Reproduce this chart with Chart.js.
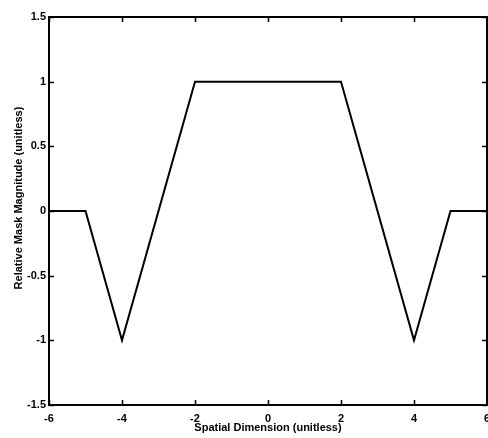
<!DOCTYPE html>
<html>
<head>
<meta charset="utf-8">
<script src="https://cdn.jsdelivr.net/npm/chart.js@4/dist/chart.umd.min.js"></script>
<style>
  html, body { margin: 0; padding: 0; background: #fff; }
  #wrap { width: 488px; height: 438px; }
</style>
</head>
<body>
<div id="wrap"><canvas id="c"></canvas></div>
<script>
  // mask profile
  const xs = [-6, -5, -4, -2, 2, 4, 5, 6];
  const ys = [0, 0, -1, 1, 1, -1, 0, 0];
  const xTitle = 'Spatial Dimension (unitless)';
  const yTitle = 'Relative Mask Magnitude (unitless)';

  const INK = '#000';
  const TICK_FONT = { family: '"Liberation Sans", Arial, sans-serif', size: 11, weight: 'bold', lineHeight: 1 };
  const TITLE_FONT = '"Liberation Sans", Arial, sans-serif';

  // matlab style box: frame + inward ticks on all four sides
  const boxPlugin = {
    id: 'box',
    afterDraw(chart) {
      const { ctx, chartArea: a, scales } = chart;
      const len = 5;
      ctx.save();
      ctx.strokeStyle = INK;
      ctx.lineWidth = 1.5;
      ctx.beginPath();
      scales.x.ticks.forEach(t => {
        const px = Math.round(scales.x.getPixelForValue(t.value)) + 0.5;
        ctx.moveTo(px, a.bottom); ctx.lineTo(px, a.bottom - len);
        ctx.moveTo(px, a.top); ctx.lineTo(px, a.top + len);
      });
      scales.y.ticks.forEach(t => {
        const py = Math.round(scales.y.getPixelForValue(t.value)) + 0.5;
        ctx.moveTo(a.left, py); ctx.lineTo(a.left + len, py);
        ctx.moveTo(a.right, py); ctx.lineTo(a.right - len, py);
      });
      ctx.stroke();
      ctx.lineWidth = 2;
      ctx.strokeRect(a.left, a.top, a.right - a.left, a.bottom - a.top);

      // y title, sits a bit above the middle like the original
      ctx.fillStyle = INK;
      ctx.font = 'bold 11px ' + TITLE_FONT;
      ctx.textAlign = 'center';
      ctx.textBaseline = 'middle';
      ctx.translate(19, (a.top + a.bottom) / 2 - 13);
      ctx.rotate(-Math.PI / 2);
      ctx.fillText(yTitle, 0, 0);
      ctx.restore();
    }
  };

  new Chart(document.getElementById('c'), {
    type: 'line',
    data: {
      datasets: [{
        data: xs.map((x, i) => ({ x, y: ys[i] })),
        borderColor: INK,
        borderWidth: 2,
        pointRadius: 0,
        tension: 0,
        fill: false,
      }],
    },
    options: {
      responsive: true,
      maintainAspectRatio: false,
      animation: false,
      events: [],
      layout: { padding: { top: 17, right: 1, left: 0, bottom: 0 } },
      plugins: { legend: { display: false }, tooltip: { enabled: false } },
      scales: {
        x: {
          type: 'linear', min: -6, max: 6,
          grid: { display: false, drawTicks: false },
          border: { display: false },
          ticks: { stepSize: 2, color: INK, font: TICK_FONT, padding: 8, maxRotation: 0 },
          title: {
            display: true, text: xTitle, color: INK,
            font: { family: TITLE_FONT, size: 11, weight: 'bold', lineHeight: 1 },
            padding: { top: 0, bottom: 5 },
          },
          afterFit(s) { s.height = 33; s.paddingLeft = 0; s.paddingRight = 0; },
        },
        y: {
          min: -1.5, max: 1.5,
          grid: { display: false, drawTicks: false },
          border: { display: false },
          ticks: {
            stepSize: 0.5, color: INK, font: TICK_FONT, padding: 3,
            callback: v => String(Number(v)),
          },
          afterFit(s) { s.width = 49; s.paddingTop = 0; s.paddingBottom = 0; },
        },
      },
    },
    plugins: [boxPlugin],
  });
</script>
</body>
</html>
